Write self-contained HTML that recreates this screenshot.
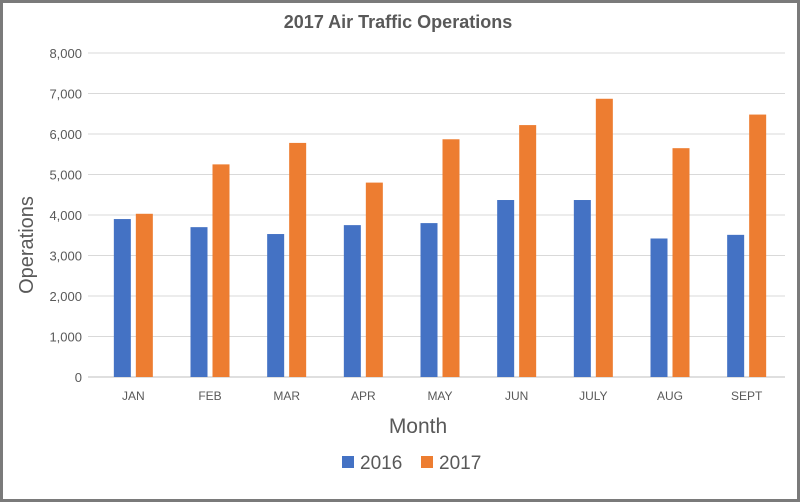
<!DOCTYPE html>
<html><head><meta charset="utf-8"><style>
body{margin:0;background:#fff;}
svg{display:block;font-family:"Liberation Sans",sans-serif;}
</style></head><body>
<svg id="chart" width="800" height="502">
<rect x="1.5" y="1.5" width="797" height="499" fill="#fff" stroke="#7a7a7a" stroke-width="3"/>
<text x="398" y="28" text-anchor="middle" font-size="18" font-weight="bold" fill="#595959">2017 Air Traffic Operations</text>
<g id="grid"></g><g id="bars"></g><g id="xlabels"></g>
<text transform="translate(33,245) rotate(-90)" text-anchor="middle" font-size="20" fill="#595959">Operations</text>
<text x="418" y="433" text-anchor="middle" font-size="21" fill="#595959">Month</text>
<g>
<rect x="342" y="456" width="12" height="12" fill="#4472c4"/>
<text x="360" y="469" font-size="19" fill="#595959">2016</text>
<rect x="421" y="456" width="12" height="12" fill="#ed7d31"/>
<text x="439" y="469" font-size="19" fill="#595959">2017</text>
</g>
</svg>
<script>
const categories=["JAN","FEB","MAR","APR","MAY","JUN","JULY","AUG","SEPT"];
const series2016=[3900,3700,3530,3750,3800,4370,4370,3420,3510];
const series2017=[4030,5250,5780,4800,5870,6220,6870,5650,6480];
const yTicks=[0,1000,2000,3000,4000,5000,6000,7000,8000];
const NS="http://www.w3.org/2000/svg";
const x0=95,x1=785,y0=377,y1=53,yMax=8000;
const bw=(x1-x0)/categories.length;
function yScale(v){return y0-(v/yMax)*(y0-y1);}
function xCenter(i){return x0+bw*(i+0.5);}
function mk(tag,attrs,parent){const e=document.createElementNS(NS,tag);for(const k in attrs)e.setAttribute(k,attrs[k]);parent.appendChild(e);return e;}
const grid=document.getElementById('grid');
yTicks.forEach(t=>{
  const y=yScale(t);
  const l=mk('line',{x1:88,x2:x1,y1:y,y2:y,stroke:t===0?'#bfbfbf':'#d9d9d9','stroke-width':1},grid);
  
  
  const tx=mk('text',{x:82,y:y+5,'text-anchor':'end','font-size':13,fill:'#595959'},grid);
  tx.textContent=t.toLocaleString('en-US');
  
  
});
const bars=document.getElementById('bars'),xl=document.getElementById('xlabels');
const w=17,gap=5;
categories.forEach((c,i)=>{
  const cx=xCenter(i);
  const b1=mk('rect',{x:cx-gap/2-w,y:yScale(series2016[i]),width:w,height:y0-yScale(series2016[i]),fill:'#4472c4'},bars);
  
  
  const b2=mk('rect',{x:cx+gap/2,y:yScale(series2017[i]),width:w,height:y0-yScale(series2017[i]),fill:'#ed7d31'},bars);
  
  
  const t=mk('text',{x:cx,y:400,'text-anchor':'middle','font-size':12,fill:'#595959'},xl);
  t.textContent=c;
  
  
});
</script>
</body></html>
